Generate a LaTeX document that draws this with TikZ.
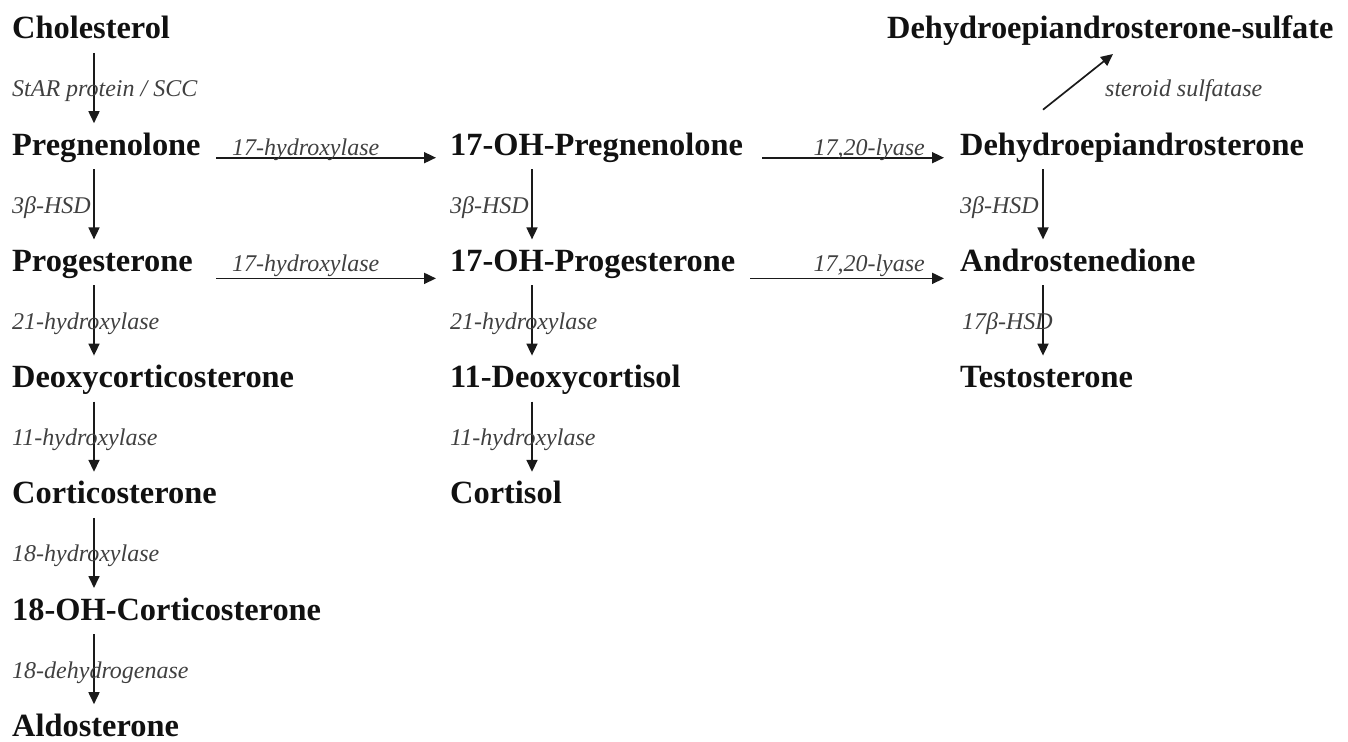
\documentclass[tikz,border=0pt]{standalone}
\usepackage{fontspec}
\setmainfont{Liberation Serif}
\usetikzlibrary{arrows.meta,calc}
\definecolor{ink}{HTML}{111111}
\definecolor{enz}{HTML}{404040}
\definecolor{arrowc}{HTML}{1A1A1A}
\tikzset{
  compound/.style={anchor=base west, inner sep=0pt, text=ink,
    font=\fontsize{32.4}{36}\selectfont\bfseries},
  enzyme/.style={anchor=base west, inner sep=0pt, text=enz,
    font=\fontsize{24}{28}\selectfont\itshape},
  react/.style={draw=arrowc, line width=1.7pt,
    -{Triangle[length=12pt,width=11pt]}},
}
\begin{document}
\begin{tikzpicture}[x=1pt,y=-1pt]
\useasboundingbox (0,0) rectangle (1348,741);

% columns of the vertical reaction arrows and ends of the horizontal ones
\coordinate (cA) at (94,0);
\coordinate (cB) at (532,0);
\coordinate (cC) at (1043,0);
\coordinate (hs) at (216,0);
\coordinate (he) at (436,0);
\coordinate (ls1) at (762,0);
\coordinate (ls2) at (750,0);
\coordinate (le) at (944,0);

% steroids (baselines every 116.2 units)
\node[compound] (chol)      at (12,39)    {Cholesterol};
\node[compound] (dheas)     at (887,39)   {Dehydroepiandrosterone-sulfate};
\node[compound] (preg)      at (12,155.2) {Pregnenolone};
\node[compound] (ohpreg)    at (450,155.2){17-OH-Pregnenolone};
\node[compound] (dhea)      at (960,155.2){Dehydroepiandrosterone};
\node[compound] (prog)      at (12,271.4) {Progesterone};
\node[compound] (ohprog)    at (450,271.4){17-OH-Progesterone};
\node[compound] (andro)     at (960,271.4){Androstenedione};
\node[compound] (doc)       at (12,387.6) {Deoxycorticosterone};
\node[compound] (deoxycort) at (450,387.6){11-Deoxycortisol};
\node[compound] (testo)     at (960,387.6){Testosterone};
\node[compound] (cort)      at (12,503.8) {Corticosterone};
\node[compound] (cortisol)  at (450,503.8){Cortisol};
\node[compound] (ohcort)    at (12,620)   {18-OH-Corticosterone};
\node[compound] (aldo)      at (12,736.2) {Aldosterone};

% vertical conversions
\foreach \a/\b/\c in {chol/preg/cA, preg/prog/cA, prog/doc/cA, doc/cort/cA,
    cort/ohcort/cA, ohcort/aldo/cA, ohpreg/ohprog/cB, ohprog/deoxycort/cB,
    deoxycort/cortisol/cB, dhea/andro/cC, andro/testo/cC}
  \draw[react] ($(\a.base -| \c)+(0,14)$) -- ($(\b.base -| \c)+(0,-32)$);

% enzymes on the vertical arrows
\node[enzyme] (e1)  at ($(chol.base west)+(0,58)$)      {StAR protein / SCC};
\node[enzyme] (e2)  at ($(preg.base west)+(0,58)$)      {3β-HSD};
\node[enzyme] (e3)  at ($(prog.base west)+(0,58)$)      {21-hydroxylase};
\node[enzyme] (e4)  at ($(doc.base west)+(0,58)$)       {11-hydroxylase};
\node[enzyme] (e5)  at ($(cort.base west)+(0,58)$)      {18-hydroxylase};
\node[enzyme] (e6)  at ($(ohcort.base west)+(0,58)$)    {18-dehydrogenase};
\node[enzyme] (e7)  at ($(ohpreg.base west)+(0,58)$)    {3β-HSD};
\node[enzyme] (e8)  at ($(ohprog.base west)+(0,58)$)    {21-hydroxylase};
\node[enzyme] (e9)  at ($(deoxycort.base west)+(0,58)$) {11-hydroxylase};
\node[enzyme] (e10) at ($(dhea.base west)+(0,58)$)      {3β-HSD};
\node[enzyme] (e11) at ($(andro.base west)+(2,58)$)     {17β-HSD};

% horizontal conversions
\draw[react] ($(preg.base -| hs)+(0,2.5)$)  -- ($(ohpreg.base -| he)+(0,2.5)$);
\draw[react] ($(prog.base -| hs)+(0,7)$)    -- ($(ohprog.base -| he)+(0,7)$);
\draw[react] ($(ohpreg.base -| ls1)+(0,2.5)$) -- ($(dhea.base -| le)+(0,2.5)$);
\draw[react] ($(ohprog.base -| ls2)+(0,7)$)   -- ($(andro.base -| le)+(0,7)$);
\node[enzyme] (h1) at ($(preg.base -| hs)+(16,0)$) {17-hydroxylase};
\node[enzyme] (h2) at ($(prog.base -| hs)+(16,0)$) {17-hydroxylase};
\node[enzyme, anchor=base east] (l1) at ($(dhea.base -| le)+(-19,0)$)  {17,20-lyase};
\node[enzyme, anchor=base east] (l2) at ($(andro.base -| le)+(-19,0)$) {17,20-lyase};

% sulfation of DHEA
\draw[react] ($(dhea.base -| cC)+(0,-45.5)$) -- ($(dheas.base west)+(226,15)$);
\node[enzyme] (sulf) at (1105,97) {steroid sulfatase};
\end{tikzpicture}
\end{document}
